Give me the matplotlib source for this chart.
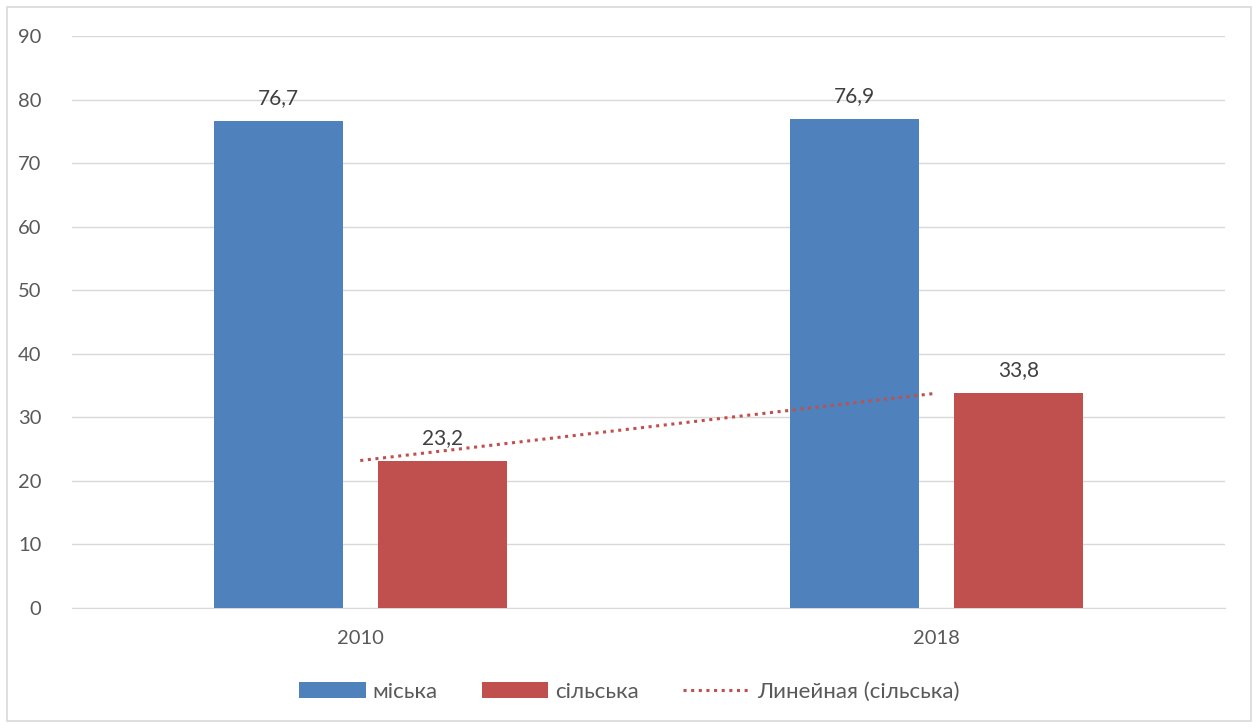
import matplotlib.pyplot as plt
from matplotlib.patches import Rectangle
import numpy as np

years = ['2010', '2018']
misto = [76.7, 76.9]
silo = [23.2, 33.8]
labels_misto = ['76,7', '76,9']
labels_silo = ['23,2', '33,8']

blue = '#4F81BD'
red = '#C0504D'
txt = '#595959'

plt.rcParams['font.family'] = ['Lato', 'DejaVu Sans']

fig = plt.figure(figsize=(12.58, 7.28), dpi=100)
ax = fig.add_axes([72/1258, 1-608/728, (1225-72)/1258, (608-36)/728])

x = np.arange(len(years))
w = 0.224
off = 0.142
b1 = ax.bar(x - off, misto, w, color=blue, label='міська', zorder=3)
b2 = ax.bar(x + off, silo, w, color=red, label='сільська', zorder=3)

for rect, lab in zip(b1, labels_misto):
    ax.text(rect.get_x() + rect.get_width()/2, rect.get_height() + 2.0, lab,
            ha='center', va='bottom', fontsize=15, color='#404040')
for rect, lab in zip(b2, labels_silo):
    ax.text(rect.get_x() + rect.get_width()/2, rect.get_height() + 2.0, lab,
            ha='center', va='bottom', fontsize=15, color='#404040')

# linear trend for сільська
k, b = np.polyfit(x, silo, 1)
tr, = ax.plot(x, k*x + b, linestyle=(0, (1, 1.5)), color=red, linewidth=2.2,
              label='Линейная (сільська)', zorder=4)

ax.set_xlim(-0.5, 1.5)
ax.set_ylim(0, 90)
ax.set_yticks(range(0, 91, 10))
ax.set_xticks(x)
ax.set_xticklabels(years)
ax.grid(axis='y', color='#D9D9D9', linewidth=1, zorder=0)
for s in ['top', 'right', 'left']:
    ax.spines[s].set_visible(False)
ax.spines['bottom'].set_color('#D9D9D9')
ax.tick_params(axis='both', length=0, labelsize=14.5, colors=txt)
ax.tick_params(axis='y', pad=22)
ax.tick_params(axis='x', pad=16)

fig.legend([b1, b2, tr], ['міська', 'сільська', 'Линейная (сільська)'],
           loc='center', bbox_to_anchor=(0.5, 1-692/728), ncol=3, frameon=False,
           fontsize=16, labelcolor=txt, handlelength=3.0, handleheight=0.7,
           columnspacing=2.0, handletextpad=0.3)

fig.add_artist(Rectangle((7/1258, 7/728), 1-14/1258, 1-14/728, transform=fig.transFigure,
                         fill=False, edgecolor='#D9D9D9', linewidth=1.2))

fig.savefig('out.png', dpi=100, facecolor='white')
